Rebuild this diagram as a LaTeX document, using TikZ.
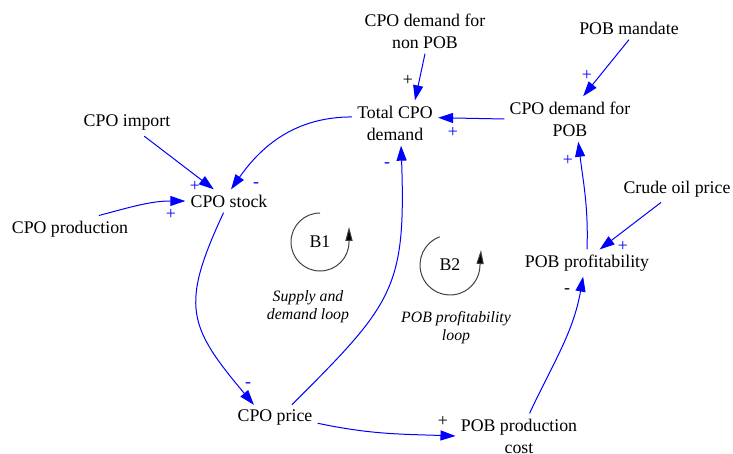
\documentclass[tikz,border=0pt]{standalone}
\usepackage{fontspec}
\setmainfont{Liberation Serif}
\newfontfamily\diagfont{Liberation Serif}
\usetikzlibrary{arrows.meta}
\tikzset{
  var/.style={align=center,inner sep=2.5pt,font=\diagfont\fontsize{8.9}{11}\selectfont},
  loopname/.style={align=center,inner sep=0pt,font=\diagfont\fontsize{7.9}{9}\selectfont\itshape},
  loopsym/.style={circle,minimum size=29pt,inner sep=0pt,outer sep=0pt,font=\diagfont\fontsize{8.9}{11}\selectfont},
  loopline/.style={draw=black!75,line width=0.5pt,-{Triangle[length=7pt,width=3.6pt,fill=black]}},
  link/.style={draw=blue,line width=0.5pt,-{Triangle[length=7.5pt,width=5pt]}},
  sign/.style={text=blue,inner sep=0pt,font=\diagfont\fontsize{8.9}{11}\selectfont},
  signk/.style={sign,text=black}
}
\begin{document}
\begin{tikzpicture}[x=0.5pt,y=0.5pt]
        \useasboundingbox (0,0) rectangle (733,-454);

        %%%%%%%% Variables %%%%%%%%
        \node[var] (nonpob) at (425,-31) {CPO demand for\\non POB};
        \node[var] (mandate) at (629,-28) {POB mandate};
        \node[var] (total) at (395,-123) {Total CPO\\demand};
        \node[var] (pobdem) at (570,-119) {CPO demand for\\POB};
        \node[var] (import) at (127,-123) {CPO import};
        \node[var] (stock) at (229,-201) {CPO stock};
        \node[var] (production) at (70,-229) {CPO production};
        \node[var] (crude) at (677,-189) {Crude oil price};
        \node[var] (profit) at (587,-263) {POB profitability};
        \node[var] (price) at (275,-418) {CPO price};
        \node[var] (cost) at (519,-436) {POB production\\cost};

        %%%%%%%% Loops %%%%%%%%
        \node[loopsym] (b1) at (320,-242) {B1};
        \draw[loopline] (b1.90) arc[start angle=90,end angle=360,radius=14.5pt] -- ++(0,15);
        \node[loopsym,minimum size=30pt] (b2) at (450,-265) {B2};
        \draw[loopline] (b2.110) arc[start angle=110,end angle=360,radius=15pt] -- ++(1,15);
        \node[loopname] (loop1) at (308,-307) {Supply and\\demand loop};
        \node[loopname] (loop2) at (456,-328) {POB profitability\\loop};

        %%%%%%%% Links %%%%%%%%
        \draw[link] (import) -- (stock);
        \draw[link] (production.25) to[out=15,in=180] (stock.west);
        \draw[link] (total.172) to[out=180,in=55] (stock.80);
        \draw[link] (nonpob.south) -- ([xshift=10pt]total.north);
        \draw[link] (pobdem.west) -- (total.7);
        \draw[link] (mandate.south) -- (pobdem.60);
        \draw[link] (profit.north) to[out=88,in=-83] (pobdem.-70);
        \draw[link] (crude.-140) -- (profit.47);
        \draw[link] (stock.-115) to[out=-115,in=130,looseness=1.35] (price.148);
        \draw[link] (price.38) to[out=45,in=-88,looseness=1.3] (total.-75);
        \draw[link] (price.-7) to[out=-12,in=178] (cost.west);
        \draw[link] (cost.65) to[out=65,in=-100] (profit.-106);

        %%%%%%%% Polarities %%%%%%%%
        \node[sign] (s1) at (195,-186) {+};
        \node[sign] (s2) at (171,-214) {+};
        \node[sign] (s3) at (256,-185) {-};
        \node[signk] (s4) at (408,-80) {+};
        \node[sign] (s5) at (453,-132) {+};
        \node[sign] (s6) at (587,-75) {+};
        \node[sign] (s7) at (568,-160) {+};
        \node[sign] (s8) at (623,-246) {+};
        \node[sign] (s9) at (248,-385) {-};
        \node[sign] (s10) at (387,-165) {-};
        \node[signk] (s11) at (443,-421) {+};
        \node[signk] (s12) at (567,-291) {-};
\end{tikzpicture}
\end{document}
